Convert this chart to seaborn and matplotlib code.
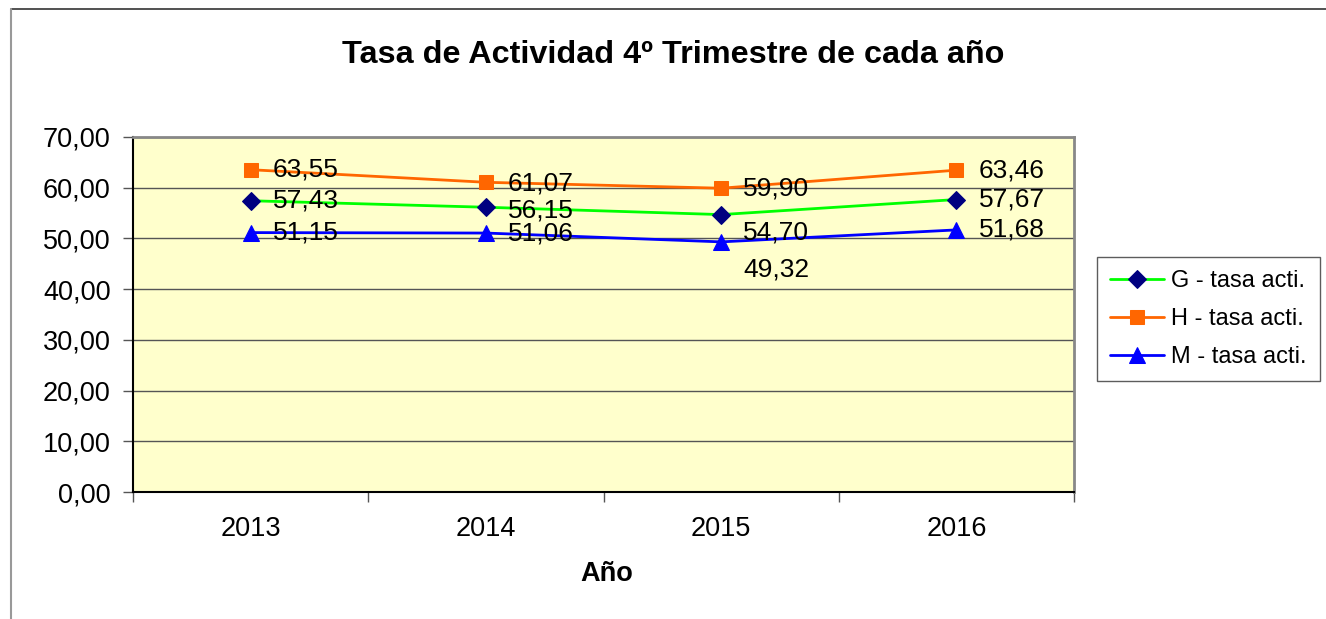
import matplotlib
matplotlib.use("Agg")
import matplotlib.pyplot as plt
from matplotlib.lines import Line2D
import seaborn as sns
import pandas as pd

years = ["2013", "2014", "2015", "2016"]
g_vals = [57.43, 56.15, 54.70, 57.67]
h_vals = [63.55, 61.07, 59.90, 63.46]
m_vals = [51.15, 51.06, 49.32, 51.68]
series_names = ["G - tasa acti.", "H - tasa acti.", "M - tasa acti."]
y_ticks = [0, 10, 20, 30, 40, 50, 60, 70]
title = "Tasa de Actividad 4º Trimestre de cada año"
xlabel = "Año"

sns.set_theme(style="white")
plt.rcParams["font.family"] = ["Liberation Sans", "DejaVu Sans"]
plt.rcParams["text.color"] = "black"
plt.rcParams["xtick.labelcolor"] = "black"
plt.rcParams["ytick.labelcolor"] = "black"

fig = plt.figure(figsize=(13.26, 6.19), dpi=100)
W, H = 1326, 619
ax = fig.add_axes([133 / W, (H - 492) / H, (1074 - 133) / W, (492 - 137) / H])
ax.set_facecolor("#FFFFCC")

styles = [
    dict(color="#00FF00", marker="D", markerfacecolor="#000080", markeredgecolor="#000080", markersize=9),
    dict(color="#FF6600", marker="s", markerfacecolor="#FF6600", markeredgecolor="#FF6600", markersize=10),
    dict(color="#0000FF", marker="^", markerfacecolor="#0000FF", markeredgecolor="#0000FF", markersize=11),
]
# vertical label offsets (points) per series per point
label_dy = [[0, -2, -13, 0], [0, -1, 0, 0], [0, 0, -20, 0]]

xs = list(range(len(years)))
for vals, name, st, dys in zip([g_vals, h_vals, m_vals], series_names, styles, label_dy):
    df = pd.DataFrame({"x": xs, "y": vals})
    sns.lineplot(data=df, x="x", y="y", ax=ax, linewidth=2, label=name, zorder=3, **st)
    for x, v, dy in zip(xs, vals, dys):
        ax.annotate(f"{v:.2f}".replace(".", ","), (x, v), xytext=(16, dy), textcoords="offset points",
                    ha="left", va="center", fontsize=19, color="black", zorder=4)

ax.set_xlim(-0.5, len(years) - 0.5)
ax.set_ylim(0, 70)
ax.set_yticks(y_ticks)
ax.set_yticklabels([f"{t:.2f}".replace(".", ",") for t in y_ticks], fontsize=19.5)
ax.set_xticks([i - 0.5 for i in range(len(years) + 1)])
ax.set_xticklabels([""] * (len(years) + 1))
ax.set_xticks(xs, minor=True)
ax.set_xticklabels(years, minor=True, fontsize=19.5)
ax.tick_params(axis="x", which="major", direction="out", length=7, width=1, color="#555555", bottom=True)
ax.tick_params(axis="x", which="minor", length=0, pad=17, bottom=True)
ax.tick_params(axis="y", direction="out", length=7, width=1, color="#555555", left=True, pad=9)
ax.grid(axis="y", color="#555555", linewidth=1)
ax.set_axisbelow(True)
for s in ["left", "bottom"]:
    ax.spines[s].set_color("black")
    ax.spines[s].set_linewidth(1.5)
for s in ["top", "right"]:
    ax.spines[s].set_color("#888888")
    ax.spines[s].set_linewidth(2)
ax.set_xlabel("")
ax.set_ylabel("")

handles, labels = ax.get_legend_handles_labels()
ax.get_legend().remove()
leg = fig.legend(handles, labels, loc="upper left", bbox_to_anchor=(1097 / W, 1 - 257 / H),
                 borderaxespad=0, frameon=True, fancybox=False, edgecolor="#333333",
                 fontsize=17, handlelength=2.3, handletextpad=0.3, labelspacing=0.68, borderpad=0.55)
leg.get_frame().set_linewidth(1)
for t in leg.get_texts():
    t.set_color("black")

fig.text(673 / W, 1 - 55 / H, title, ha="center", va="center", fontsize=23.3, fontweight="bold", color="black")
fig.text(607 / W, 1 - 574 / H, xlabel, ha="center", va="center", fontsize=19.5, fontweight="bold", color="black")

fig.add_artist(Line2D([11 / W, 1], [1 - 8.5 / H, 1 - 8.5 / H], color="#333333", linewidth=1.2))
fig.add_artist(Line2D([11 / W, 11 / W], [0, 1 - 8.5 / H], color="#999999", linewidth=1.5))

fig.savefig("out.png", dpi=100)
